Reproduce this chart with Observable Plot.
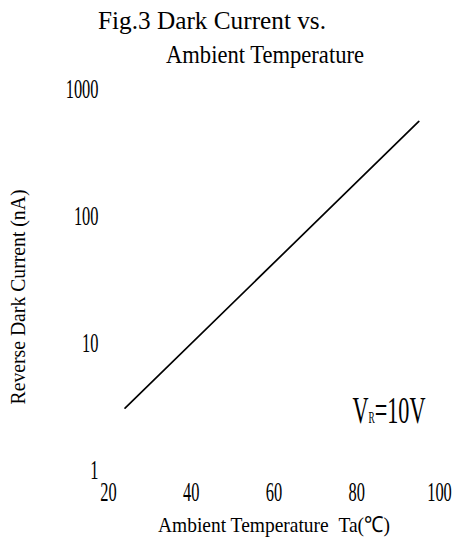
<!DOCTYPE html>
<html>
<head>
<meta charset="utf-8">
<script src="https://cdn.jsdelivr.net/npm/d3@7"></script>
<script src="https://cdn.jsdelivr.net/npm/@observablehq/plot@0.6"></script>
<style>
  html, body { margin: 0; padding: 0; background: #fff; }
  svg text { font-family: "Liberation Serif", serif; }
</style>
</head>
<body>
<div id="chart"></div>
<script>
// Data
const xTicks = [20, 40, 60, 80, 100];
const yTicks = [1, 10, 100, 1000];
const temperature = [24, 95];        // Ta (°C)
const darkCurrent = [3.1, 560];      // nA
const titleLines = ["Fig.3 Dark Current vs.", "Ambient Temperature"];
const xTitle = "Ambient Temperature\u00a0\u00a0Ta(\u2103)";
const yTitle = "Reverse Dark Current (nA)";
const noteText = "VR=10V";

const data = temperature.map((t, i) => ({t, i: darkCurrent[i]}));

const chart = Plot.plot({
  width: 456,
  height: 540,
  marginLeft: 108,
  marginRight: 17,
  marginTop: 89,
  marginBottom: 70,
  style: {fontFamily: "Liberation Serif", background: "white", color: "black"},
  x: {domain: [20, 100]},
  y: {type: "log", domain: [1, 1000]},
  marks: [
    Plot.axisX(xTicks, {tickSize: 0, tickPadding: 11, fontSize: 28, label: null, tickFormat: d => String(d)}),
    Plot.axisY(yTicks, {tickSize: 0, tickPadding: 10, fontSize: 28, label: null, tickFormat: d => String(d)}),
    Plot.line(data, {x: "t", y: "i", stroke: "black", strokeWidth: 1.7}),
    Plot.text([titleLines[0]], {frameAnchor: "top", lineAnchor: "middle", textAnchor: "middle", dx: -62, dy: -69, fontSize: 26}),
    Plot.text([titleLines[1]], {frameAnchor: "top", lineAnchor: "middle", textAnchor: "middle", dx: -9, dy: -35, fontSize: 26}),
    Plot.text([xTitle], {frameAnchor: "bottom", lineAnchor: "middle", textAnchor: "middle", dx: 0, dy: 54, fontSize: 22}),
    Plot.text([yTitle], {frameAnchor: "left", lineAnchor: "middle", textAnchor: "middle", dx: -91, dy: 17, rotate: -90, fontSize: 22}),
    Plot.text([noteText], {frameAnchor: "bottom-left", lineAnchor: "middle", textAnchor: "start", dx: 244, dy: -60, fontSize: 38})
  ]
});
document.getElementById("chart").appendChild(chart);

// Narrow the glyphs to the half-width proportions of the reference font
const widths = new Map([
  [titleLines[0], 228],
  [titleLines[1], 198],
  [xTitle, 232],
  [yTitle, 215],
  [noteText, 73]
]);
d3.select(chart).selectAll("text").each(function () {
  const s = this.textContent;
  let w = widths.get(s);
  if (w == null && /^\d+$/.test(s)) w = s.length * 8.2;
  if (w != null) {
    this.setAttribute("textLength", w);
    this.setAttribute("lengthAdjust", "spacingAndGlyphs");
  }
  if (s === noteText) {
    const el = d3.select(this);
    el.text(null);
    el.append("tspan").text("V");
    el.append("tspan").attr("font-size", 16).text("R");
    el.append("tspan").text("=10V");
  }
});
</script>
</body>
</html>
